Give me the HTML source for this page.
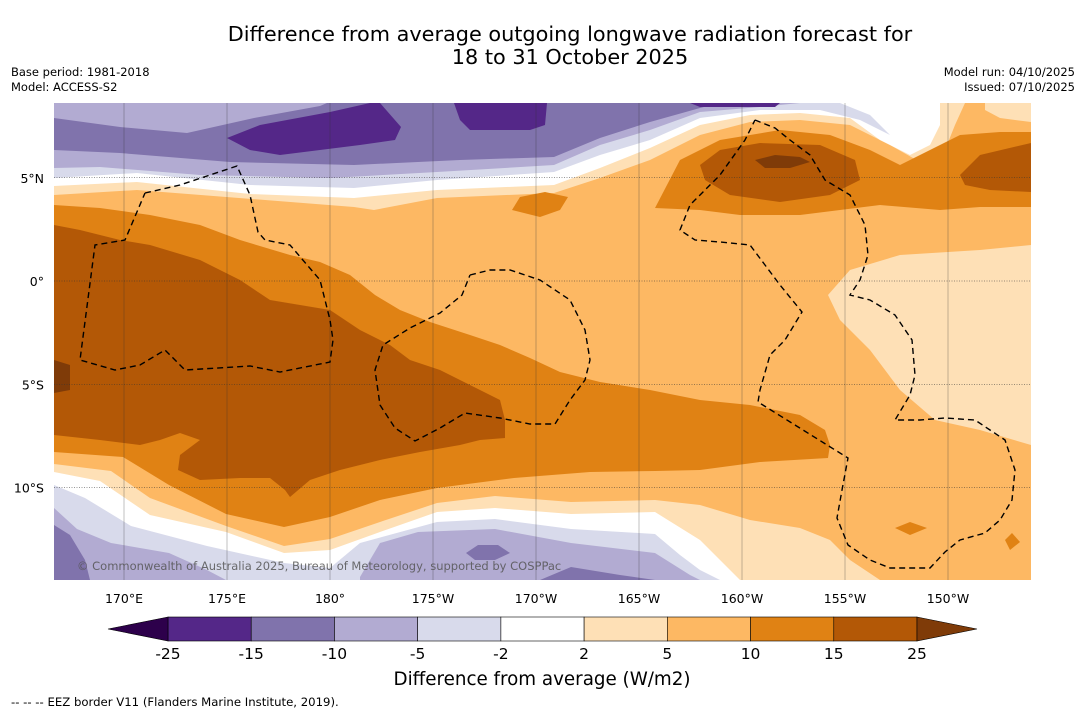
<!DOCTYPE html>
<html><head><meta charset="utf-8">
<style>
body{margin:0;background:#fff;width:1085px;height:713px;overflow:hidden;font-family:"DejaVu Sans","Liberation Sans",sans-serif;}
svg{position:absolute;left:0;top:0}
</style></head>
<body>
<svg id="chart" width="1085" height="713" viewBox="0 0 1085 713" xmlns="http://www.w3.org/2000/svg" font-family="DejaVu Sans, Liberation Sans, sans-serif">
<text x="570" y="41" font-size="20.8" text-anchor="middle" fill="#000">Difference from average outgoing longwave radiation forecast for</text>
<text x="570" y="64" font-size="20.8" text-anchor="middle" fill="#000">18 to 31 October 2025</text>
<text x="11" y="76" font-size="11.5">Base period: 1981-2018</text>
<text x="11" y="91" font-size="11.5">Model: ACCESS-S2</text>
<text x="1075" y="76" font-size="11.5" text-anchor="end">Model run: 04/10/2025</text>
<text x="1075" y="91" font-size="11.5" text-anchor="end">Issued: 07/10/2025</text>

<defs><clipPath id="mapclip"><rect x="54" y="103" width="977" height="477"/></clipPath></defs>
<g clip-path="url(#mapclip)" stroke="none">
<rect x="54" y="103" width="977" height="477" fill="#fdb863"/>
<polygon fill="#fee0b6" points="54,103 965,103 955,125 945,150 920,162 890,145 850,125 800,120 750,122 700,135 650,160 600,178 554,193 437,198 374,210 354,207 137,190 54,195"/>
<polygon fill="#ffffff" points="54,103 940,103 940,125 930,145 910,155 880,140 850,118 800,113 750,115 700,125 650,148 600,168 554,185 437,190 354,198 250,194 137,182 54,186"/>
<polygon fill="#d8daeb" points="54,103 840,103 870,115 890,135 860,120 820,110 760,110 700,118 650,140 600,155 554,172 437,180 354,188 250,185 137,173 54,178"/>
<polygon fill="#b2abd2" points="54,103 800,103 760,107 700,112 650,130 600,145 554,165 437,172 330,178 200,175 100,167 54,168"/>
<polygon fill="#8073ac" points="54,103 720,103 700,108 650,122 600,138 554,157 460,160 354,165 230,162 120,153 54,150"/>
<polygon fill="#b2abd2" points="54,103 327,103 320,106 254,118 187,133 120,127 54,118"/>
<polygon fill="#542788" points="227,138 260,125 330,112 370,103 380,103 401,127 395,140 360,145 320,150 280,155 250,150"/>
<polygon fill="#542788" points="454,103 547,103 545,125 530,130 470,130 460,120"/>
<polygon fill="#542788" points="690,103 780,103 775,107 700,107"/>
<polygon fill="#fee0b6" points="985,103 1031,103 1031,122 1000,118 985,110"/>
<polygon fill="#e08214" points="655,208 680,160 720,140 780,130 830,135 870,150 900,165 930,150 960,135 1000,132 1031,132 1031,207 980,207 940,210 880,205 840,210 800,215 740,215 700,210"/>
<polygon fill="#b35806" points="700,165 720,150 760,143 820,145 855,160 860,180 830,195 780,202 730,195 705,180"/>
<polygon fill="#7f3b08" points="755,160 775,155 800,157 810,162 790,168 765,168"/>
<polygon fill="#b35806" points="960,175 980,155 1031,143 1031,192 990,190 965,185"/>
<polygon fill="#e08214" points="512,210 520,197 545,192 568,197 560,210 540,217"/>
<polygon fill="#fee0b6" points="1031,245 980,250 900,255 850,270 828,295 840,320 870,350 900,390 935,420 980,430 1031,445"/>
<polygon fill="#e08214" points="54,205 100,208 150,215 200,225 240,240 290,255 320,262 350,275 375,295 400,310 430,322 470,335 500,345 530,358 560,372 600,382 650,390 700,400 750,405 800,415 825,430 830,445 828,458 760,462 700,470 655,471 590,472 514,478 437,488 380,500 330,517 284,527 226,514 169,485 123,457 54,452"/>
<polygon fill="#b35806" points="54,225 80,230 120,240 150,245 200,260 240,280 270,300 300,305 330,310 360,330 390,345 410,360 440,370 470,385 500,400 505,420 505,438 480,440 460,445 420,452 380,460 340,470 310,480 290,497 285,490 270,478 240,478 200,480 178,470 180,455 200,440 180,433 160,440 140,445 100,440 54,435"/>
<polygon fill="#7f3b08" points="54,360 70,365 70,390 54,393"/>
<polygon fill="#e08214" points="895,528 910,522 927,528 910,535"/>
<polygon fill="#e08214" points="1005,540 1012,533 1020,542 1010,550"/>
<polygon fill="#fee0b6" points="54,464 111,471 150,498 226,526 284,546 330,539 380,522 437,503 495,496 571,502 655,500 700,505 750,520 800,528 830,540 850,560 880,580 54,580"/>
<polygon fill="#ffffff" points="54,472 100,481 150,515 226,532 284,553 330,550 380,532 437,512 495,508 571,514 655,512 700,540 720,560 740,580 54,580"/>
<polygon fill="#d8daeb" points="54,485 85,498 131,526 207,546 284,563 330,568 360,543 437,522 495,519 571,529 655,534 680,555 700,570 720,580 54,580"/>
<polygon fill="#b2abd2" points="54,508 77,529 111,543 169,553 207,570 226,580 54,580"/>
<polygon fill="#b2abd2" points="360,580 360,577 380,543 418,532 495,529 571,543 655,553 690,575 700,580"/>
<polygon fill="#8073ac" points="54,525 70,535 85,560 90,580 54,580"/>
<polygon fill="#8073ac" points="540,580 571,567 620,575 655,580"/>
<polygon fill="#8073ac" points="466,553 478,545 498,545 510,553 495,560 475,560"/>
<g id="grid"></g>
<g fill="none" stroke="#000" stroke-width="1.4" stroke-dasharray="6,4">
<polyline points="145,193 180,185 237,166 250,195 258,232 265,240 290,245 320,280 330,320 333,340 330,362 280,372 250,366 185,370 165,350 140,365 115,370 80,360 95,245 125,240 145,193"/>
<polyline points="470,275 490,270 510,270 540,280 570,300 585,330 590,360 585,380 570,400 555,424 530,424 500,418 465,413 440,428 415,441 395,428 380,405 375,370 383,345 410,328 440,313 462,295 470,275"/>
<polyline points="755,120 775,128 790,140 810,155 825,180 850,195 865,225 868,255 860,280 850,295 870,300 895,315 912,340 915,375 910,395 895,420 920,420 945,418 975,420 1005,440 1015,470 1012,500 1000,520 985,533 960,540 945,552 930,568 890,568 870,560 848,545 837,518 842,490 848,458 758,402 760,390 770,355 785,340 802,312 780,285 765,265 750,245 720,242 695,240 680,230 690,205 720,175 745,140 755,120"/>
</g>
<text x="77" y="570" font-size="11.5" fill="#555" fill-opacity="0.85">© Commonwealth of Australia 2025, Bureau of Meteorology, supported by COSPPac</text>
</g>
<g id="axes"></g>
<g id="colorbar"></g>
<text x="542" y="685" font-size="18.3" text-anchor="middle">Difference from average (W/m2)</text>
<text x="11" y="706" font-size="11.7">--  --  -- EEZ border V11 (Flanders Marine Institute, 2019).</text>
</svg>
<script>
const lonTicks = [170, 175, 180, 185, 190, 195, 200, 205, 210];
const lonLabels = ["170°E", "175°E", "180°", "175°W", "170°W", "165°W", "160°W", "155°W", "150°W"];
const latTicks = [5, 0, -5, -10];
const latLabels = ["5°N", "0°", "5°S", "10°S"];
const cbLevels = ["-25", "-15", "-10", "-5", "-2", "2", "5", "10", "15", "25"];
const cbColors = ["#542788", "#8073ac", "#b2abd2", "#d8daeb", "#ffffff", "#fee0b6", "#fdb863", "#e08214", "#b35806"];
const cbUnder = "#2d004b";
const cbOver = "#7f3b08";

const NS = "http://www.w3.org/2000/svg";
function xLon(lon){ return 124 + (lon - 170) * 20.6; }
function yLat(lat){ return 281 - lat * 20.65; }
function mk(tag, attrs, parent){ const e = document.createElementNS(NS, tag); for (const k in attrs) e.setAttribute(k, attrs[k]); parent.appendChild(e); return e; }

const grid = document.getElementById('grid');
const axes = document.getElementById('axes');
lonTicks.forEach((lon, i) => {
  const x = xLon(lon);
  const l = mk('line', {x1:x, y1:103, x2:x, y2:580, stroke:'#333', 'stroke-width':0.5, 'stroke-opacity':0.6}, grid);
  
  
  const t = mk('text', {x:x, y:603, 'font-size':12.5, 'text-anchor':'middle'}, axes);
  t.textContent = lonLabels[i];
  
  
});
latTicks.forEach((lat, i) => {
  const y = yLat(lat);
  const l = mk('line', {x1:54, y1:y, x2:1031, y2:y, stroke:'#333', 'stroke-width':0.6, 'stroke-dasharray':'1,1.5'}, grid);
  
  
  const t = mk('text', {x:44, y:y + 5, 'font-size':12.5, 'text-anchor':'end'}, axes);
  t.textContent = latLabels[i];
  
  
});

const cb = document.getElementById('colorbar');
const cbX0 = 168, cbX1 = 917, cbY = 617, cbH = 24;
const bw = (cbX1 - cbX0) / cbColors.length;
cbColors.forEach((c, i) => {
  const r = mk('rect', {x:cbX0 + i * bw, y:cbY, width:bw, height:cbH, fill:c, stroke:'#000', 'stroke-width':0.6}, cb);
  
  
});
const tl = mk('polygon', {points:`${cbX0},${cbY} 108,${cbY + cbH/2} ${cbX0},${cbY + cbH}`, fill:cbUnder, stroke:'#000', 'stroke-width':0.6}, cb);


const tr = mk('polygon', {points:`${cbX1},${cbY} 977,${cbY + cbH/2} ${cbX1},${cbY + cbH}`, fill:cbOver, stroke:'#000', 'stroke-width':0.6}, cb);


cbLevels.forEach((lv, i) => {
  const t = mk('text', {x:cbX0 + i * bw, y:659, 'font-size':15.5, 'text-anchor':'middle'}, cb);
  t.textContent = lv;
  
  
});
</script>
</body></html>
